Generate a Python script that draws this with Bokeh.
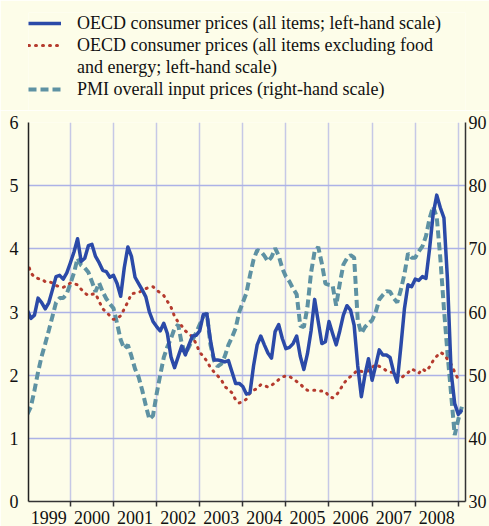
from bokeh.plotting import figure
from bokeh.layouts import column
from bokeh.models import (Range1d, LinearAxis, FixedTicker, Legend, LegendItem,
                          CustomJSTickFormatter)
from bokeh.embed import file_html
from bokeh.resources import INLINE

# ---------------- data (monthly, starting January 1999) ----------------
start_year = 1999
year_labels = [1999, 2000, 2001, 2002, 2003, 2004, 2005, 2006, 2007, 2008]
year_bounds = [1999, 2000, 2001, 2002, 2003, 2004, 2005, 2006, 2007, 2008, 2009]
left_ticks = [0, 1, 2, 3, 4, 5, 6]
right_ticks = [30, 40, 50, 60, 70, 80, 90]

label_all = "OECD consumer prices (all items; left-hand scale)"
label_core = "OECD consumer prices (all items excluding food"
label_core_2 = "and energy; left-hand scale)"
label_pmi = "PMI overall input prices (right-hand scale)"

# OECD consumer prices, all items (% y/y, left-hand scale)
cpi_all = [
    3.03, 2.90, 2.95, 3.22, 3.15, 3.05, 3.15, 3.35, 3.56, 3.58, 3.52, 3.62,
    3.78, 3.95, 4.16, 3.80, 3.85, 4.05, 4.07, 3.88, 3.78, 3.66, 3.64, 3.55,
    3.58, 3.45, 3.25, 3.70, 4.03, 3.88, 3.55, 3.45, 3.35, 3.24, 3.00, 2.85,
    2.77, 2.70, 2.82, 2.66, 2.29, 2.12, 2.29, 2.46, 2.32, 2.48, 2.62, 2.63,
    2.70, 2.96, 2.97, 2.55, 2.24, 2.24, 2.23, 2.21, 2.23, 2.05, 1.87, 1.87,
    1.82, 1.70, 1.72, 2.15, 2.48, 2.62, 2.48, 2.35, 2.27, 2.69, 2.80, 2.58,
    2.42, 2.44, 2.50, 2.62, 2.30, 2.09, 2.34, 2.70, 3.20, 2.85, 2.50, 2.53,
    2.85, 2.66, 2.48, 2.70, 2.95, 3.10, 3.03, 2.79, 2.15, 1.66, 2.00, 2.26,
    1.92, 2.15, 2.40, 2.32, 2.32, 2.28, 2.05, 1.89, 2.45, 3.05, 3.43, 3.40,
    3.52, 3.50, 3.56, 3.53, 4.00, 4.55, 4.85, 4.65, 4.49, 3.50, 2.05, 1.55,
    1.38, 1.45,
]

# OECD consumer prices excluding food and energy (left-hand scale)
cpi_core = [
    3.80, 3.62, 3.55, 3.53, 3.52, 3.48, 3.48, 3.46, 3.42, 3.40, 3.39, 3.42,
    3.46, 3.45, 3.43, 3.36, 3.30, 3.26, 3.28, 3.29, 3.17, 3.05, 3.00, 2.94,
    2.88, 2.90, 2.94, 3.05, 3.16, 3.29, 3.30, 3.31, 3.34, 3.37, 3.39, 3.40,
    3.35, 3.30, 3.26, 3.17, 3.08, 2.93, 2.84, 2.78, 2.70, 2.66, 2.60, 2.50,
    2.36, 2.30, 2.22, 2.12, 2.05, 1.99, 1.93, 1.82, 1.77, 1.72, 1.61, 1.56,
    1.58, 1.62, 1.72, 1.76, 1.79, 1.85, 1.84, 1.81, 1.84, 1.88, 1.93, 1.97,
    1.99, 1.98, 1.94, 1.90, 1.86, 1.80, 1.76, 1.76, 1.76, 1.75, 1.75, 1.74,
    1.66, 1.64, 1.68, 1.76, 1.86, 1.93, 1.98, 2.03, 2.08, 2.06, 2.05, 2.07,
    2.12, 2.17, 2.14, 2.11, 2.07, 2.05, 2.04, 2.00, 1.95, 2.00, 2.04, 2.10,
    2.07, 2.03, 2.10, 2.06, 2.13, 2.23, 2.30, 2.36, 2.33, 2.25, 2.17, 2.05,
    1.93,
]

# PMI overall input prices (right-hand scale)
pmi = [
    43.8, 45.0, 47.6, 50.5, 53.0, 55.0, 57.1, 59.3, 61.5, 62.2, 62.2, 62.9,
    64.5, 66.2, 68.5, 67.4, 67.0, 66.3, 64.8, 63.2, 64.6, 63.2, 62.1, 61.3,
    60.6, 58.2, 55.6, 54.2, 54.8, 53.0, 51.0, 49.7, 47.6, 45.2, 43.0, 43.6,
    47.0, 50.0, 52.8, 54.5, 55.8, 57.4, 58.0, 55.0, 53.4, 54.5, 55.6, 56.7,
    58.0, 59.3, 59.8, 54.8, 52.3, 51.4, 51.8, 53.0, 54.8, 56.0, 57.4, 60.0,
    61.5, 63.0, 65.8, 68.3, 69.8, 69.6, 68.9, 68.0, 68.7, 70.1, 68.9, 66.9,
    65.6, 64.8, 63.7, 62.8, 57.8, 57.6, 60.8, 66.2, 69.6, 70.3, 67.7, 64.5,
    64.3, 64.2, 61.0, 64.5, 67.5, 68.5, 69.0, 68.6, 58.7, 56.6, 57.6, 58.2,
    58.7, 60.0, 62.0, 62.7, 63.3, 63.2, 62.2, 61.5, 63.5, 66.0, 69.3, 68.6,
    68.6, 69.6, 70.4, 72.0, 74.8, 76.7, 75.0, 68.5, 60.5, 53.4, 47.0, 40.5,
    43.0, 45.0,
]

x_all = [start_year + i / 12 for i in range(len(cpi_all))]
x_core = [start_year + i / 12 for i in range(len(cpi_core))]
x_pmi = [start_year + i / 12 for i in range(len(pmi))]

# ---------------- styling ----------------
BG = "#fdfde9"
FONT = "Liberation Serif"
TICK_SIZE = "18px"
BLUE = "#2b4aa8"
RED = "#b53b2e"
TEAL = "#5e92a3"
STYLE_ALL = dict(line_color=BLUE, line_width=3.5, line_join="round")
STYLE_CORE = dict(line_color=RED, line_width=3, line_dash="1 6", line_cap="round")
STYLE_PMI = dict(line_color=TEAL, line_width=4, line_dash="8 4")

# ---------------- main chart ----------------
p = figure(width=489, height=416, output_backend="svg", toolbar_location=None,
           x_range=Range1d(1999.028, 2009.167), y_range=Range1d(0, 6),
           min_border_left=28, min_border_right=22, min_border_top=12,
           min_border_bottom=25,
           background_fill_color=BG, border_fill_color=BG,
           outline_line_color=None)
p.extra_y_ranges = {"pmi": Range1d(30, 90)}

p.xgrid.ticker = FixedTicker(ticks=year_bounds[1:])
p.xgrid.grid_line_color = "#c6c8e6"
p.xgrid.grid_line_width = 1.5
p.ygrid.grid_line_color = "#acb2e6"
p.ygrid.grid_line_width = 1.5

xa = p.xaxis[0]
xa.ticker = FixedTicker(ticks=[y + 0.5 for y in year_labels], minor_ticks=year_bounds)
xa.formatter = CustomJSTickFormatter(code="return Math.floor(tick).toString()")
xa.major_tick_out = 0
xa.major_tick_in = 0
xa.minor_tick_out = 5
xa.minor_tick_in = 0
xa.minor_tick_line_color = "#333333"
xa.minor_tick_line_width = 1.5
xa.axis_line_color = "#333333"
xa.axis_line_width = 1.5
xa.major_label_standoff = 4
xa.major_label_text_font = FONT
xa.major_label_text_font_size = TICK_SIZE
xa.major_label_text_color = "#111111"

ya = p.yaxis[0]
ya.ticker = FixedTicker(ticks=left_ticks)
ya.major_tick_out = 0
ya.major_tick_in = 0
ya.minor_tick_out = 0
ya.minor_tick_in = 0
ya.axis_line_color = "#222222"
ya.axis_line_width = 1.5
ya.major_label_standoff = 10
ya.major_label_text_font = FONT
ya.major_label_text_font_size = TICK_SIZE
ya.major_label_text_color = "#111111"

ra = LinearAxis(y_range_name="pmi", ticker=FixedTicker(ticks=right_ticks))
ra.major_tick_out = 0
ra.major_tick_in = 0
ra.minor_tick_out = 0
ra.minor_tick_in = 0
ra.axis_line_color = "#333333"
ra.axis_line_width = 1.5
ra.major_label_standoff = 3
ra.major_label_text_font = FONT
ra.major_label_text_font_size = TICK_SIZE
ra.major_label_text_color = "#111111"
p.add_layout(ra, "right")

p.line(x_pmi, pmi, y_range_name="pmi", **STYLE_PMI)
p.line(x_core, cpi_core, **STYLE_CORE)
p.line(x_all, cpi_all, **STYLE_ALL)

# ---------------- legend strip above the chart ----------------
# the legend keys reuse the series (they fall outside this strip's ranges,
# so only their legend glyphs are seen)
lg = figure(width=489, height=110, output_backend="svg", toolbar_location=None,
            x_range=Range1d(0, 1), y_range=Range1d(0, 1),
            x_axis_location=None, y_axis_location=None,
            min_border_left=27, min_border_top=12, min_border_right=0,
            min_border_bottom=0,
            background_fill_color=BG, border_fill_color=BG,
            outline_line_color=None)
lg.grid.visible = False
k_all = lg.line(x_all, cpi_all, **STYLE_ALL)
k_core = lg.line(x_core, cpi_core, **STYLE_CORE)
k_blank = lg.line(x_core, cpi_core, line_alpha=0)   # continuation line of the 2nd entry
k_pmi = lg.line(x_pmi, pmi, **STYLE_PMI)

legend = Legend(items=[
    LegendItem(label=label_all, renderers=[k_all]),
    LegendItem(label=label_core, renderers=[k_core]),
    LegendItem(label=label_core_2, renderers=[k_blank]),
    LegendItem(label=label_pmi, renderers=[k_pmi]),
], location="top_left")
legend.glyph_width = 33
legend.glyph_height = 22
legend.label_height = 22
legend.label_standoff = 16
legend.spacing = 0
legend.padding = 0
legend.margin = 0
legend.border_line_color = None
legend.background_fill_alpha = 0
legend.label_text_font = FONT
legend.label_text_font_size = "18px"
legend.label_text_color = "#111111"
lg.add_layout(legend)

layout = column(lg, p, spacing=0)
open("out.html", "w").write(file_html(layout, INLINE))
